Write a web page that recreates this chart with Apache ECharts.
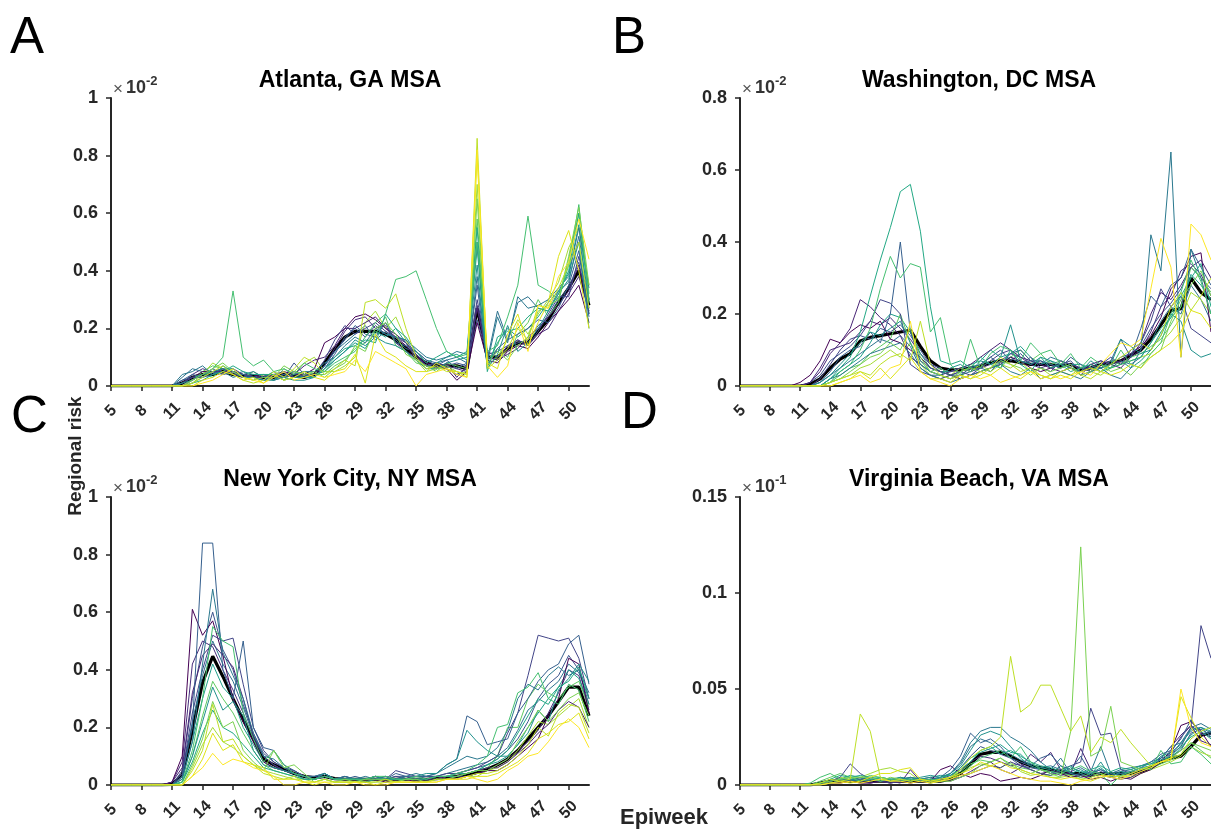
<!DOCTYPE html>
<html>
<head>
<meta charset="utf-8">
<title>Regional risk by epiweek</title>
<script src="https://cdn.jsdelivr.net/npm/echarts@6/dist/echarts.min.js"></script>
<style>
  html, body { margin: 0; padding: 0; background: #fff; }
  #main { width: 1211px; height: 829px; }
</style>
</head>
<body>
<div id="main"></div>
<script>
// epiweeks 5..52
const weeks = [5,6,7,8,9,10,11,12,13,14,15,16,17,18,19,20,21,22,23,24,25,26,27,28,
               29,30,31,32,33,34,35,36,37,38,39,40,41,42,43,44,45,46,47,48,49,50,51,52];

const panelTitles = ['Atlanta, GA MSA', 'Washington, DC MSA', 'New York City, NY MSA', 'Virginia Beach, VA MSA'];
const panelLetters = ['A', 'B', 'C', 'D'];
const yMaxes = [1, 0.8, 1, 0.15];
const yIntervals = [0.2, 0.2, 0.2, 0.05];
const yExponents = ['-2', '-2', '-2', '-1'];

// model runs (one line each), values in units of the axis multiplier
const atlantaRuns = [
  [0,0,0,0,0,0,0,0.01, 0.03,0.05,0.05,0.06,0.04,0.03,0.04,0.03, 0.03,0.05,0.04,0.04,0.06,0.15,0.17,0.2, 0.24,0.25,0.23,0.2,0.17,0.14,0.1,0.08, 0.07,0.06,0.02,0.05,0.22,0.09,0.08,0.12, 0.14,0.13,0.17,0.22,0.26,0.3,0.35,0.22],
  [0,0,0,0,0,0,0,0, 0.02,0.04,0.05,0.05,0.05,0.04,0.03,0.03, 0.04,0.03,0.04,0.07,0.09,0.1,0.14,0.2, 0.2,0.22,0.24,0.2,0.18,0.15,0.11,0.07, 0.06,0.08,0.03,0.07,0.27,0.1,0.09,0.11, 0.13,0.17,0.2,0.24,0.28,0.33,0.42,0.25],
  [0,0,0,0,0,0,0,0.01, 0.03,0.03,0.04,0.06,0.04,0.04,0.03,0.02, 0.04,0.05,0.03,0.03,0.04,0.09,0.16,0.21, 0.18,0.2,0.22,0.19,0.17,0.15,0.1,0.07, 0.08,0.06,0.04,0.06,0.3,0.12,0.1,0.13, 0.16,0.14,0.19,0.25,0.31,0.31,0.45,0.3],
  [0,0,0,0,0,0,0,0.02, 0.04,0.03,0.05,0.04,0.05,0.03,0.04,0.04, 0.02,0.04,0.05,0.03,0.03,0.07,0.12,0.16, 0.21,0.18,0.17,0.22,0.15,0.14,0.12,0.09, 0.07,0.09,0.06,0.08,0.35,0.07,0.13,0.16, 0.18,0.2,0.23,0.22,0.27,0.35,0.47,0.24],
  [0,0,0,0,0,0,0,0.04, 0.05,0.07,0.04,0.05,0.03,0.04,0.05,0.03, 0.02,0.03,0.04,0.05,0.05,0.08,0.1,0.14, 0.17,0.15,0.2,0.18,0.17,0.16,0.13,0.1, 0.09,0.1,0.12,0.11,0.5,0.08,0.24,0.15, 0.31,0.27,0.28,0.3,0.34,0.38,0.55,0.34],
  [0,0,0,0,0,0,0,0.01, 0.02,0.04,0.05,0.06,0.06,0.03,0.03,0.02, 0.02,0.03,0.02,0.02,0.03,0.06,0.09,0.12, 0.16,0.14,0.17,0.15,0.14,0.12,0.09,0.06, 0.06,0.08,0.09,0.1,0.42,0.06,0.11,0.21, 0.12,0.15,0.2,0.26,0.32,0.37,0.5,0.2],
  [0,0,0,0,0,0,0,0, 0.01,0.02,0.04,0.05,0.07,0.05,0.04,0.04, 0.04,0.02,0.03,0.03,0.03,0.06,0.1,0.13, 0.14,0.16,0.15,0.25,0.2,0.17,0.12,0.08, 0.1,0.12,0.1,0.12,0.55,0.05,0.17,0.19, 0.2,0.24,0.27,0.26,0.32,0.4,0.6,0.29],
  [0,0,0,0,0,0,0,0, 0.01,0.03,0.06,0.1,0.33,0.1,0.07,0.09, 0.05,0.06,0.04,0.08,0.06,0.05,0.08,0.1, 0.12,0.17,0.22,0.25,0.37,0.38,0.4,0.3, 0.2,0.12,0.1,0.11,0.5,0.12,0.14,0.24, 0.35,0.59,0.35,0.33,0.3,0.42,0.63,0.3],
  [0,0,0,0,0,0,0,0, 0.02,0.04,0.06,0.08,0.05,0.03,0.02,0.03, 0.03,0.07,0.05,0.04,0.05,0.03,0.06,0.08, 0.14,0.12,0.2,0.22,0.18,0.11,0.09,0.07, 0.06,0.07,0.05,0.04,0.65,0.08,0.12,0.09, 0.14,0.17,0.26,0.28,0.3,0.45,0.62,0.35],
  [0,0,0,0,0,0,0,0, 0.01,0.03,0.05,0.07,0.04,0.02,0.01,0.02, 0.05,0.03,0.06,0.1,0.08,0.04,0.06,0.09, 0.07,0.29,0.3,0.27,0.32,0.2,0.1,0.06, 0.07,0.05,0.05,0.03,0.86,0.06,0.09,0.13, 0.2,0.16,0.28,0.27,0.34,0.42,0.5,0.27],
  [0,0,0,0,0,0,0,0, 0,0.02,0.03,0.05,0.04,0.02,0.03,0.01, 0.04,0.02,0.03,0.05,0.03,0.02,0.05,0.06, 0.11,0.01,0.18,0.12,0.1,0.07,0.05,0.05, 0.08,0.06,0.05,0.04,0.8,0.08,0.06,0.18, 0.25,0.14,0.22,0.29,0.45,0.54,0.4,0.2],
  [0,0,0,0,0,0,0,0, 0,0.01,0.02,0.04,0.06,0.03,0.02,0.01, 0.03,0.05,0.02,0.03,0.04,0.03,0.04,0.05, 0.09,0.05,0.12,0.1,0.08,0.06,0,0.04, 0.05,0.06,0.04,0.03,0.82,0.07,0.03,0.07, 0.22,0.12,0.28,0.27,0.38,0.43,0.58,0.44]
];
const atlantaExtraRuns = [
  [0,0,0,0,0,0,0,0.01, 0.04,0.06,0.05,0.05,0.06,0.04,0.04,0.03, 0.03,0.04,0.03,0.04,0.04,0.07,0.13,0.19, 0.23,0.24,0.2,0.21,0.15,0.12,0.1,0.07, 0.08,0.07,0.06,0.05,0.28,0.1,0.09,0.14, 0.16,0.14,0.18,0.2,0.26,0.32,0.38,0.26],
  [0,0,0,0,0,0,0,0.02, 0.03,0.04,0.06,0.04,0.05,0.04,0.03,0.04, 0.03,0.03,0.08,0.04,0.03,0.06,0.11,0.17, 0.2,0.17,0.21,0.18,0.17,0.16,0.11,0.08, 0.06,0.07,0.08,0.07,0.23,0.11,0.12,0.14, 0.15,0.16,0.21,0.24,0.3,0.34,0.43,0.27],
  [0,0,0,0,0,0,0,0.03, 0.06,0.05,0.04,0.06,0.04,0.05,0.03,0.02, 0.03,0.04,0.05,0.04,0.03,0.07,0.12,0.15, 0.18,0.21,0.16,0.19,0.16,0.13,0.12,0.09, 0.08,0.09,0.1,0.08,0.38,0.09,0.26,0.16, 0.29,0.31,0.27,0.26,0.33,0.36,0.52,0.3],
  [0,0,0,0,0,0,0,0.01, 0.03,0.04,0.03,0.07,0.05,0.04,0.03,0.03, 0.05,0.03,0.04,0.03,0.04,0.05,0.09,0.12, 0.15,0.13,0.19,0.17,0.2,0.15,0.1,0.07, 0.08,0.1,0.11,0.09,0.48,0.07,0.15,0.2, 0.17,0.2,0.24,0.29,0.33,0.39,0.56,0.25],
  [0,0,0,0,0,0,0,0, 0.02,0.05,0.07,0.06,0.04,0.03,0.05,0.03, 0.02,0.06,0.04,0.05,0.04,0.04,0.07,0.09, 0.13,0.15,0.18,0.24,0.14,0.12,0.08,0.07, 0.05,0.08,0.07,0.06,0.58,0.09,0.13,0.1, 0.18,0.22,0.3,0.24,0.29,0.44,0.6,0.32],
  [0,0,0,0,0,0,0,0, 0.01,0.04,0.08,0.06,0.05,0.03,0.02,0.04, 0.04,0.02,0.05,0.08,0.1,0.05,0.05,0.07, 0.1,0.22,0.26,0.2,0.24,0.16,0.09,0.05, 0.06,0.06,0.04,0.05,0.7,0.07,0.1,0.16, 0.23,0.18,0.25,0.3,0.36,0.48,0.55,0.35]
];
const atlantaMean = [0,0,0,0,0,0,0,0.01, 0.03,0.04,0.04,0.05,0.04,0.035,0.035,0.03, 0.03,0.04,0.035,0.03,0.04,0.08,0.13,0.17, 0.19,0.19,0.19,0.18,0.16,0.13,0.1,0.08, 0.07,0.07,0.07,0.06,0.27,0.1,0.1,0.13, 0.15,0.15,0.19,0.23,0.29,0.34,0.4,0.28];

const washingtonRuns = [
  [0,0,0,0,0,0,0.01,0.03, 0.07,0.13,0.12,0.15,0.17,0.16,0.18,0.13, 0.12,0.1,0.08,0.05,0.04,0.03,0.02,0.03, 0.04,0.05,0.06,0.08,0.07,0.05,0.04,0.05, 0.06,0.05,0.04,0.06,0.05,0.06,0.07,0.09, 0.11,0.14,0.19,0.27,0.3,0.36,0.37,0.15],
  [0,0,0,0,0,0,0,0.01, 0.04,0.09,0.12,0.16,0.24,0.22,0.19,0.17, 0.14,0.08,0.06,0.04,0.03,0.04,0.05,0.06, 0.08,0.1,0.12,0.1,0.08,0.07,0.06,0.05, 0.04,0.05,0.03,0.06,0.07,0.06,0.05,0.08, 0.12,0.2,0.26,0.24,0.28,0.33,0.35,0.3],
  [0,0,0,0,0,0,0,0, 0.02,0.06,0.1,0.13,0.14,0.18,0.24,0.23, 0.2,0.06,0.04,0.03,0.02,0.03,0.04,0.03, 0.05,0.07,0.09,0.1,0.06,0.08,0.05,0.04, 0.07,0.06,0.05,0.04,0.06,0.08,0.06,0.1, 0.12,0.18,0.27,0.22,0.25,0.16,0.14,0.12],
  [0,0,0,0,0,0,0,0, 0.01,0.04,0.08,0.1,0.11,0.15,0.12,0.2, 0.4,0.15,0.07,0.05,0.04,0.03,0.03,0.05, 0.06,0.08,0.06,0.09,0.1,0.07,0.07,0.06, 0.05,0.08,0.06,0.04,0.05,0.07,0.13,0.08, 0.16,0.25,0.22,0.28,0.3,0.38,0.33,0.28],
  [0,0,0,0,0,0,0,0, 0,0.02,0.03,0.05,0.07,0.09,0.1,0.11, 0.12,0.09,0.05,0.03,0.02,0.01,0.02,0.03, 0.04,0.05,0.06,0.04,0.03,0.05,0.02,0.03, 0.04,0.03,0.02,0.04,0.05,0.03,0.02,0.05, 0.1,0.42,0.32,0.65,0.08,0.38,0.3,0.2],
  [0,0,0,0,0,0,0,0, 0.01,0.03,0.06,0.09,0.12,0.15,0.14,0.16, 0.18,0.12,0.06,0.04,0.03,0.05,0.06,0.04, 0.07,0.06,0.08,0.17,0.07,0.06,0.08,0.07, 0.06,0.05,0.04,0.07,0.05,0.06,0.13,0.11, 0.09,0.1,0.14,0.2,0.18,0.1,0.08,0.09],
  [0,0,0,0,0,0,0,0, 0,0.02,0.05,0.08,0.15,0.25,0.35,0.44, 0.54,0.56,0.43,0.22,0.07,0.06,0.07,0.05, 0.08,0.06,0.05,0.1,0.06,0.04,0.08,0.05, 0.06,0.04,0.05,0.06,0.04,0.05,0.06,0.07, 0.08,0.12,0.16,0.19,0.25,0.3,0.34,0.22],
  [0,0,0,0,0,0,0,0, 0,0.01,0.04,0.06,0.1,0.16,0.27,0.36, 0.3,0.34,0.33,0.15,0.19,0.06,0.03,0.13, 0.05,0.09,0.11,0.1,0.07,0.12,0.09,0.1, 0.06,0.09,0.05,0.08,0.06,0.05,0.1,0.06, 0.05,0.09,0.12,0.2,0.26,0.35,0.29,0.2],
  [0,0,0,0,0,0,0,0, 0,0.01,0.02,0.04,0.06,0.08,0.09,0.12, 0.1,0.16,0.08,0.04,0.03,0.02,0.04,0.05, 0.04,0.05,0.07,0.06,0.05,0.03,0.05,0.04, 0.05,0.06,0.03,0.04,0.06,0.04,0.05,0.03, 0.06,0.08,0.1,0.18,0.24,0.28,0.32,0.25],
  [0,0,0,0,0,0,0,0, 0,0.01,0.02,0.03,0.04,0.03,0.06,0.08, 0.09,0.07,0.18,0.06,0.03,0.02,0.03,0.02, 0.03,0.05,0.08,0.06,0.04,0.05,0.03,0.02, 0.04,0.05,0.03,0.02,0.04,0.06,0.08,0.1, 0.12,0.1,0.14,0.22,0.26,0.21,0.25,0.3],
  [0,0,0,0,0,0,0,0, 0,0,0.01,0.02,0.04,0.02,0.05,0.02, 0.05,0.08,0.04,0.02,0.02,0.01,0.03,0.02, 0.04,0.03,0.05,0.03,0.02,0.04,0.03,0.02, 0.03,0.02,0.04,0.05,0.04,0.03,0.04,0.06, 0.05,0.08,0.1,0.12,0.15,0.21,0.2,0.16],
  [0,0,0,0,0,0,0,0, 0,0,0.01,0.02,0.03,0.01,0.02,0.05, 0.06,0.18,0.04,0.02,0.01,0,0.02,0.03, 0.02,0.03,0.01,0.02,0.03,0.04,0.02,0.03, 0.02,0.03,0.04,0.03,0.06,0.09,0.12,0.11, 0.13,0.27,0.41,0.33,0.08,0.45,0.42,0.35]
];
const washingtonExtraRuns = [
  [0,0,0,0,0,0,0,0.01, 0.05,0.1,0.11,0.12,0.15,0.18,0.17,0.19, 0.16,0.13,0.09,0.06,0.04,0.04,0.05,0.04, 0.05,0.06,0.07,0.09,0.08,0.06,0.05,0.06, 0.05,0.06,0.05,0.05,0.06,0.07,0.06,0.08, 0.1,0.15,0.22,0.25,0.32,0.34,0.31,0.25],
  [0,0,0,0,0,0,0,0.01, 0.03,0.07,0.09,0.11,0.14,0.13,0.16,0.15, 0.17,0.14,0.1,0.06,0.05,0.03,0.04,0.05, 0.06,0.08,0.1,0.07,0.09,0.06,0.07,0.05, 0.06,0.07,0.04,0.05,0.07,0.06,0.08,0.09, 0.11,0.16,0.2,0.23,0.27,0.33,0.3,0.27],
  [0,0,0,0,0,0,0,0, 0.01,0.03,0.05,0.07,0.09,0.11,0.13,0.12, 0.14,0.11,0.05,0.03,0.03,0.02,0.03,0.04, 0.05,0.04,0.07,0.08,0.06,0.07,0.06,0.08, 0.07,0.06,0.03,0.04,0.06,0.05,0.07,0.06, 0.08,0.12,0.18,0.22,0.2,0.28,0.24,0.18],
  [0,0,0,0,0,0,0,0, 0,0.02,0.04,0.06,0.08,0.12,0.17,0.2, 0.19,0.15,0.09,0.05,0.04,0.04,0.05,0.06, 0.07,0.1,0.08,0.09,0.11,0.08,0.06,0.07, 0.05,0.06,0.06,0.05,0.04,0.06,0.07,0.05, 0.07,0.1,0.15,0.19,0.22,0.31,0.28,0.24],
  [0,0,0,0,0,0,0,0, 0,0.01,0.03,0.05,0.06,0.09,0.11,0.13, 0.2,0.12,0.07,0.04,0.05,0.03,0.02,0.06, 0.05,0.07,0.05,0.08,0.1,0.07,0.09,0.06, 0.07,0.05,0.04,0.06,0.05,0.07,0.06,0.08, 0.09,0.11,0.13,0.17,0.22,0.33,0.3,0.26],
  [0,0,0,0,0,0,0,0, 0,0.01,0.02,0.03,0.05,0.06,0.08,0.1, 0.08,0.12,0.06,0.03,0.02,0.03,0.05,0.04, 0.06,0.04,0.06,0.05,0.07,0.04,0.05,0.03, 0.04,0.03,0.05,0.04,0.03,0.05,0.06,0.07, 0.08,0.09,0.12,0.15,0.19,0.26,0.24,0.2]
];
const washingtonMean = [0,0,0,0,0,0,0,0.005, 0.02,0.05,0.075,0.09,0.125,0.135,0.14,0.145, 0.15,0.155,0.11,0.07,0.05,0.045,0.045,0.05, 0.055,0.065,0.07,0.07,0.065,0.06,0.06,0.06, 0.055,0.06,0.045,0.05,0.06,0.065,0.07,0.085, 0.1,0.13,0.17,0.21,0.215,0.3,0.26,0.24];

const newYorkRuns = [
  [0,0,0,0,0,0,0.01,0.1, 0.61,0.52,0.57,0.45,0.3,0.22,0.15,0.08, 0.06,0.05,0.04,0.03,0.02,0.03,0.02,0.02, 0.02,0.01,0.02,0.01,0.02,0.02,0.01,0.02, 0.02,0.03,0.02,0.03,0.04,0.05,0.05,0.07, 0.1,0.13,0.16,0.24,0.3,0.44,0.42,0.25],
  [0,0,0,0,0,0,0.01,0.06, 0.32,0.45,0.49,0.45,0.41,0.3,0.17,0.1, 0.07,0.05,0.04,0.03,0.03,0.03,0.02,0.02, 0.02,0.02,0.02,0.02,0.02,0.03,0.02,0.02, 0.03,0.02,0.03,0.04,0.05,0.06,0.06,0.08, 0.11,0.14,0.18,0.21,0.26,0.29,0.27,0.2],
  [0,0,0,0,0,0,0,0.04, 0.25,0.4,0.52,0.5,0.51,0.35,0.2,0.12, 0.08,0.06,0.05,0.03,0.02,0.04,0.02,0.03, 0.02,0.02,0.03,0.02,0.05,0.04,0.03,0.03, 0.03,0.04,0.04,0.05,0.06,0.08,0.1,0.18, 0.25,0.38,0.52,0.51,0.5,0.51,0.44,0.3],
  [0,0,0,0,0,0,0,0.03, 0.2,0.84,0.84,0.4,0.3,0.5,0.2,0.13, 0.12,0.07,0.05,0.03,0.02,0.04,0.02,0.02, 0.03,0.02,0.03,0.02,0.04,0.03,0.03,0.03, 0.04,0.07,0.09,0.24,0.22,0.14,0.15,0.16, 0.25,0.3,0.36,0.4,0.42,0.49,0.52,0.35],
  [0,0,0,0,0,0,0,0.02, 0.15,0.42,0.68,0.46,0.38,0.3,0.18,0.1, 0.09,0.06,0.04,0.03,0.03,0.04,0.02,0.03, 0.02,0.03,0.02,0.03,0.02,0.03,0.04,0.03, 0.04,0.06,0.08,0.1,0.09,0.1,0.13,0.19, 0.3,0.35,0.33,0.38,0.41,0.38,0.4,0.32],
  [0,0,0,0,0,0,0,0.01, 0.1,0.22,0.34,0.26,0.29,0.24,0.12,0.07, 0.06,0.05,0.04,0.02,0.02,0.04,0.02,0.02, 0.02,0.02,0.03,0.02,0.02,0.02,0.03,0.04, 0.04,0.07,0.09,0.19,0.15,0.12,0.1,0.1, 0.14,0.18,0.26,0.22,0.33,0.37,0.42,0.36],
  [0,0,0,0,0,0,0,0.01, 0.08,0.18,0.26,0.2,0.18,0.14,0.1,0.06, 0.05,0.04,0.03,0.02,0.02,0.03,0.02,0.02, 0.02,0.01,0.02,0.02,0.02,0.02,0.02,0.02, 0.03,0.03,0.03,0.04,0.05,0.07,0.09,0.12, 0.18,0.24,0.3,0.28,0.34,0.36,0.41,0.3],
  [0,0,0,0,0,0,0,0.01, 0.12,0.3,0.55,0.5,0.48,0.25,0.16,0.08, 0.12,0.07,0.04,0.03,0.02,0.03,0.02,0.02, 0.02,0.02,0.03,0.03,0.02,0.02,0.03,0.02, 0.03,0.03,0.04,0.05,0.07,0.1,0.2,0.21, 0.32,0.34,0.39,0.3,0.28,0.35,0.33,0.22],
  [0,0,0,0,0,0,0,0, 0.07,0.16,0.29,0.2,0.22,0.12,0.08,0.05, 0.12,0.06,0.07,0.04,0.01,0.02,0.01,0.02, 0.01,0.02,0.02,0.02,0.01,0.02,0.02,0.01, 0.02,0.02,0.03,0.04,0.05,0.05,0.07,0.09, 0.15,0.2,0.26,0.22,0.26,0.3,0.32,0.24],
  [0,0,0,0,0,0,0,0, 0.05,0.12,0.28,0.15,0.16,0.1,0.07,0.04, 0.03,0.02,0.03,0.01,0.01,0.02,0.01,0.01, 0.01,0.01,0.01,0.02,0.01,0.01,0.01,0.01, 0.02,0.02,0.02,0.03,0.04,0.04,0.05,0.07, 0.1,0.14,0.2,0.17,0.25,0.28,0.27,0.18],
  [0,0,0,0,0,0,0,0, 0.03,0.09,0.18,0.12,0.14,0.08,0.07,0.06, 0.02,0.02,0.02,0.01,0,0.01,0.01,0.01, 0.01,0.01,0,0.01,0.01,0.01,0.01,0.01, 0.01,0.02,0.02,0.02,0.03,0.03,0.04,0.06, 0.08,0.11,0.16,0.18,0.21,0.22,0.25,0.16],
  [0,0,0,0,0,0,0,0, 0.03,0.06,0.11,0.07,0.09,0.08,0.06,0.05, 0.03,0,0,0.01,0.01,0.01,0,0, 0.01,0,0,0,0.01,0.01,0.01,0.01, 0.01,0.02,0.02,0.03,0.02,0.01,0.02,0.05, 0.07,0.1,0.11,0.15,0.2,0.23,0.2,0.13]
];
const newYorkExtraRuns = [
  [0,0,0,0,0,0,0.01,0.08, 0.42,0.5,0.48,0.4,0.33,0.25,0.16,0.1, 0.07,0.05,0.04,0.03,0.02,0.03,0.02,0.02, 0.02,0.02,0.02,0.02,0.03,0.02,0.02,0.02, 0.02,0.03,0.03,0.03,0.04,0.05,0.07,0.09, 0.12,0.15,0.19,0.25,0.32,0.4,0.38,0.26],
  [0,0,0,0,0,0,0,0.05, 0.3,0.48,0.6,0.47,0.4,0.28,0.18,0.11, 0.08,0.06,0.05,0.03,0.03,0.04,0.02,0.03, 0.02,0.02,0.03,0.02,0.03,0.03,0.02,0.03, 0.03,0.03,0.04,0.05,0.06,0.07,0.09,0.12, 0.16,0.22,0.3,0.35,0.38,0.45,0.4,0.28],
  [0,0,0,0,0,0,0,0.03, 0.22,0.38,0.5,0.42,0.36,0.27,0.17,0.1, 0.07,0.05,0.04,0.03,0.02,0.03,0.02,0.02, 0.02,0.02,0.02,0.03,0.02,0.03,0.02,0.02, 0.03,0.04,0.05,0.06,0.07,0.08,0.1,0.13, 0.19,0.26,0.29,0.33,0.36,0.42,0.39,0.3],
  [0,0,0,0,0,0,0,0.02, 0.15,0.3,0.42,0.34,0.3,0.2,0.14,0.08, 0.06,0.05,0.04,0.03,0.02,0.03,0.02,0.02, 0.02,0.02,0.02,0.02,0.02,0.02,0.02,0.02, 0.02,0.03,0.04,0.04,0.05,0.07,0.08,0.1, 0.14,0.2,0.25,0.3,0.34,0.4,0.37,0.28],
  [0,0,0,0,0,0,0,0.01, 0.1,0.24,0.36,0.3,0.25,0.18,0.12,0.07, 0.05,0.04,0.03,0.02,0.02,0.03,0.02,0.02, 0.02,0.01,0.02,0.02,0.02,0.02,0.02,0.02, 0.02,0.03,0.03,0.04,0.05,0.06,0.1,0.2, 0.2,0.3,0.35,0.32,0.3,0.34,0.36,0.27],
  [0,0,0,0,0,0,0,0, 0.06,0.14,0.2,0.15,0.13,0.1,0.07,0.05, 0.04,0.03,0.02,0.02,0.01,0.02,0.01,0.01, 0.01,0.01,0.01,0.01,0.01,0.02,0.01,0.01, 0.02,0.02,0.02,0.03,0.03,0.05,0.06,0.08, 0.12,0.17,0.22,0.21,0.24,0.27,0.3,0.2]
];
const newYorkMean = [0,0,0,0,0,0,0.002,0.035, 0.19,0.355,0.447,0.377,0.3,0.226,0.16,0.09, 0.07,0.055,0.04,0.03,0.025,0.03,0.022,0.02, 0.02,0.02,0.02,0.02,0.02,0.02,0.02,0.02, 0.022,0.025,0.03,0.035,0.045,0.055,0.07,0.09, 0.12,0.16,0.2,0.24,0.29,0.34,0.34,0.24];

const virginiaRuns = [
  [0,0,0,0,0,0,0,0, 0,0.001,0.001,0.002,0.001,0.001,0.002,0.001, 0.002,0.001,0.002,0.002,0.008,0.01,0.006,0.004, 0.006,0.005,0.002,0.003,0.004,0.003,0.005,0.008, 0.006,0.004,0.005,0.003,0.004,0.002,0.004,0.003, 0.006,0.008,0.012,0.018,0.031,0.033,0.028,0.02],
  [0,0,0,0,0,0,0,0, 0,0.001,0.002,0.003,0.002,0.001,0.002,0.002, 0.001,0.008,0.002,0.001,0.003,0.002,0.004,0.007, 0.01,0.012,0.008,0.006,0.009,0.016,0.012,0.017, 0.008,0.006,0.019,0.008,0.005,0.004,0.003,0.004, 0.007,0.009,0.014,0.02,0.026,0.031,0.023,0.021],
  [0,0,0,0,0,0,0,0, 0.001,0.002,0.004,0.011,0.006,0.003,0.002,0.001, 0.002,0.002,0.003,0.002,0.002,0.003,0.004,0.006, 0.008,0.01,0.009,0.012,0.01,0.008,0.006,0.005, 0.008,0.01,0.012,0.04,0.026,0.027,0.008,0.006, 0.008,0.01,0.012,0.016,0.02,0.03,0.083,0.066],
  [0,0,0,0,0,0,0,0, 0,0.001,0.002,0.003,0.003,0.004,0.002,0.003, 0.002,0.003,0.002,0.003,0.004,0.008,0.015,0.027, 0.022,0.024,0.02,0.014,0.012,0.01,0.014,0.016, 0.01,0.008,0.015,0.006,0.008,0.005,0.006,0.007, 0.009,0.012,0.016,0.018,0.024,0.034,0.026,0.028],
  [0,0,0,0,0,0,0,0, 0.001,0.002,0.003,0.002,0.004,0.002,0.003,0.002, 0.003,0.004,0.003,0.002,0.003,0.006,0.012,0.022, 0.028,0.03,0.03,0.025,0.022,0.018,0.012,0.008, 0.014,0.006,0.005,0.007,0.02,0.006,0.008,0.009, 0.01,0.012,0.014,0.02,0.022,0.028,0.03,0.027],
  [0,0,0,0,0,0,0,0, 0,0.001,0.002,0.003,0.002,0.003,0.002,0.003, 0.004,0.003,0.004,0.005,0.004,0.006,0.01,0.018, 0.026,0.028,0.026,0.02,0.014,0.01,0.008,0.006, 0.01,0.006,0.008,0.005,0.012,0.004,0.007,0.006, 0.008,0.01,0.015,0.017,0.021,0.029,0.03,0.025],
  [0,0,0,0,0,0,0,0, 0.001,0.003,0.005,0.004,0.005,0.004,0.003,0.002, 0.003,0.002,0.003,0.002,0.004,0.005,0.008,0.012, 0.018,0.02,0.016,0.018,0.015,0.012,0.01,0.009, 0.007,0.01,0.006,0.008,0.01,0.007,0.009,0.008, 0.01,0.011,0.013,0.015,0.02,0.025,0.028,0.024],
  [0,0,0,0,0,0,0,0.001, 0.004,0.006,0.003,0.004,0.002,0.003,0.004,0.003, 0.002,0.003,0.002,0.003,0.002,0.004,0.006,0.01, 0.014,0.016,0.018,0.014,0.02,0.012,0.008,0.007, 0.006,0.008,0.01,0.007,0.006,0,0.005,0.007, 0.009,0.008,0.018,0.011,0.012,0.02,0.016,0.011],
  [0,0,0,0,0,0,0,0, 0.001,0.002,0.003,0.004,0.004,0.004,0.002,0.004, 0.003,0.002,0.003,0.001,0.002,0.002,0.004,0.006, 0.01,0.012,0.014,0.01,0.008,0.006,0.008,0.006, 0.004,0.028,0.124,0.015,0.018,0.041,0.012,0.01, 0.008,0.01,0.012,0.014,0.018,0.022,0.02,0.018],
  [0,0,0,0,0,0,0,0, 0.001,0.003,0.002,0.003,0.037,0.028,0.004,0.002, 0.003,0.002,0.003,0.002,0.002,0.004,0.008,0.014, 0.018,0.02,0.025,0.067,0.038,0.042,0.052,0.052, 0.04,0.028,0.036,0.017,0.025,0.022,0.029,0.022, 0.016,0.01,0.012,0.014,0.016,0.024,0.028,0.03],
  [0,0,0,0,0,0,0,0, 0,0.001,0.002,0.001,0.002,0.004,0.006,0.006, 0.008,0.009,0.003,0.002,0.003,0.004,0.006,0.008, 0.012,0.01,0.012,0.009,0.008,0.006,0.005,0.004, 0.003,0.004,0.003,0.002,0.004,0.005,0.004,0.006, 0.008,0.01,0.012,0.014,0.046,0.035,0.025,0.02],
  [0,0,0,0,0,0,0,0, 0,0.001,0.001,0.002,0.001,0.002,0.003,0.002, 0.002,0.001,0.002,0.001,0.002,0.003,0.005,0.006, 0.008,0.01,0.008,0.006,0.004,0.003,0.002,0.002, 0.001,0,0.002,0.003,0.005,0.004,0.003,0.005, 0.007,0.009,0.012,0.013,0.05,0.03,0.022,0.02]
];
const virginiaExtraRuns = [
  [0,0,0,0,0,0,0,0, 0,0.001,0.002,0.002,0.003,0.002,0.003,0.002, 0.003,0.002,0.003,0.004,0.003,0.005,0.008,0.012, 0.015,0.014,0.012,0.01,0.011,0.008,0.006,0.007, 0.005,0.006,0.004,0.005,0.006,0.004,0.005,0.006, 0.008,0.01,0.013,0.017,0.025,0.031,0.027,0.025],
  [0,0,0,0,0,0,0,0, 0.001,0.001,0.002,0.003,0.002,0.003,0.002,0.002, 0.002,0.003,0.002,0.003,0.003,0.004,0.009,0.015, 0.02,0.018,0.016,0.014,0.01,0.009,0.008,0.006, 0.007,0.005,0.006,0.004,0.007,0.005,0.006,0.005, 0.007,0.009,0.012,0.015,0.018,0.027,0.029,0.026],
  [0,0,0,0,0,0,0,0, 0,0.002,0.003,0.002,0.003,0.004,0.003,0.002, 0.004,0.003,0.002,0.003,0.004,0.006,0.011,0.02, 0.024,0.022,0.018,0.016,0.013,0.011,0.009,0.01, 0.008,0.007,0.009,0.006,0.008,0.006,0.007,0.008, 0.01,0.011,0.014,0.016,0.022,0.03,0.032,0.029],
  [0,0,0,0,0,0,0,0, 0.001,0.002,0.003,0.005,0.004,0.003,0.004,0.003, 0.003,0.004,0.003,0.004,0.005,0.005,0.009,0.014, 0.017,0.019,0.021,0.017,0.016,0.011,0.009,0.008, 0.006,0.009,0.007,0.006,0.009,0.005,0.006,0.007, 0.009,0.01,0.012,0.014,0.019,0.026,0.03,0.028],
  [0,0,0,0,0,0,0,0, 0.002,0.004,0.006,0.004,0.003,0.005,0.004,0.003, 0.002,0.004,0.003,0.002,0.003,0.004,0.007,0.011, 0.013,0.012,0.014,0.011,0.009,0.008,0.006,0.005, 0.006,0.005,0.004,0.006,0.005,0.007,0.004,0.006, 0.008,0.009,0.011,0.013,0.016,0.022,0.018,0.014],
  [0,0,0,0,0,0,0,0, 0,0.002,0.004,0.003,0.004,0.006,0.008,0.009, 0.007,0.006,0.002,0.003,0.002,0.003,0.006,0.009, 0.011,0.01,0.009,0.012,0.007,0.005,0.006,0.004, 0.004,0.005,0.003,0.004,0.006,0.004,0.005,0.004, 0.006,0.008,0.01,0.012,0.015,0.02,0.017,0.015]
];
const virginiaMean = [0,0,0,0,0,0,0,0, 0.001,0.002,0.002,0.002,0.002,0.002,0.002,0.002, 0.002,0.002,0.002,0.002,0.002,0.003,0.006,0.011, 0.016,0.017,0.017,0.015,0.012,0.01,0.009,0.008, 0.007,0.006,0.006,0.005,0.006,0.006,0.006,0.006, 0.007,0.009,0.012,0.014,0.015,0.02,0.026,0.027];

const allRuns = [atlantaRuns, washingtonRuns, newYorkRuns, virginiaRuns];
const allExtraRuns = [atlantaExtraRuns, washingtonExtraRuns, newYorkExtraRuns, virginiaExtraRuns];
const allMeans = [atlantaMean, washingtonMean, newYorkMean, virginiaMean];

// viridis colours for the runs
const viridis = ['#440154','#482475','#414487','#355f8d','#2a788e','#21918c',
                 '#22a884','#44bf70','#7ad151','#bddf26','#dde318','#fde725'];
const viridisExtra = ['#472d7b','#3b528b','#2c728e','#1f9e89','#5ec962','#a5db36'];

// layout
const FONT = '"Liberation Sans", Arial, Helvetica, sans-serif';
const TXT = '#262626';
const gridLefts = [111, 740, 111, 740];
const gridTops = [98, 98, 497, 497];
const gridW = 478, gridH = 288;
const letterPos = [[10, 39], [612, 39], [11, 418], [621, 414]];

var chart = echarts.init(document.getElementById('main'));
window.addEventListener('resize', function () { chart.resize(); });

var grids = [], xAxes = [], yAxes = [], series = [], titles = [], graphics = [];

function runSeries(i, data, color) {
    return {
        type: 'line', xAxisIndex: i, yAxisIndex: i, data: data,
        symbol: 'none', silent: true, animation: false,
        lineStyle: { width: 1, color: color }, itemStyle: { color: color }, z: 3
    };
}

for (let i = 0; i < 4; i++) {
    grids.push({ left: gridLefts[i], top: gridTops[i], width: gridW, height: gridH, containLabel: false });

    xAxes.push({
        gridIndex: i, type: 'category', data: weeks, boundaryGap: false,
        axisLine: { show: true, lineStyle: { color: TXT, width: 2 } },
        axisTick: { show: true, interval: 2, length: 5, lineStyle: { color: TXT, width: 1.5 } },
        axisLabel: {
            interval: 2, rotate: 45, align: 'center', verticalAlign: 'middle', margin: 25,
            fontFamily: FONT, fontSize: 16, fontWeight: 'bold', color: TXT
        },
        splitLine: { show: false }
    });

    yAxes.push({
        gridIndex: i, type: 'value', min: 0, max: yMaxes[i], interval: yIntervals[i],
        axisLine: { show: true, lineStyle: { color: TXT, width: 2 } },
        axisTick: { show: true, length: 5, lineStyle: { color: TXT, width: 1.5 } },
        axisLabel: { margin: 13, fontFamily: FONT, fontSize: 18, fontWeight: 'bold', color: TXT },
        splitLine: { show: false }
    });

    // mean first (underneath), then the runs
    series.push({
        type: 'line', xAxisIndex: i, yAxisIndex: i, data: allMeans[i],
        symbol: 'none', silent: true, animation: false,
        lineStyle: { width: 3.2, color: '#000' }, itemStyle: { color: '#000' }, z: 2
    });
    allExtraRuns[i].forEach(function (run, k) { series.push(runSeries(i, run, viridisExtra[k])); });
    allRuns[i].forEach(function (run, k) { series.push(runSeries(i, run, viridis[k])); });

    titles.push({
        text: panelTitles[i], left: gridLefts[i] + gridW / 2, top: gridTops[i] - 29,
        textAlign: 'center', padding: 0,
        textStyle: { fontFamily: FONT, fontSize: 23, fontWeight: 'bold', color: '#000' }
    });

    // axis multiplier  x10^n
    graphics.push(
        { type: 'text', x: gridLefts[i] + 2, y: gridTops[i] - 9,
          style: { text: '\u00d7', font: 'normal 17px ' + FONT, fill: '#555', align: 'left', verticalAlign: 'middle' } },
        { type: 'text', x: gridLefts[i] + 15, y: gridTops[i] - 10,
          style: { text: '10', font: 'bold 18px ' + FONT, fill: '#333', align: 'left', verticalAlign: 'middle' } },
        { type: 'text', x: gridLefts[i] + 35, y: gridTops[i] - 17,
          style: { text: yExponents[i], font: 'bold 13px ' + FONT, fill: '#333', align: 'left', verticalAlign: 'middle' } },
        { type: 'text', x: letterPos[i][0], y: letterPos[i][1],
          style: { text: panelLetters[i], font: 'normal 51px ' + FONT, fill: '#000', align: 'left', verticalAlign: 'middle' } }
    );
}

graphics.push(
    { type: 'text', x: 76, y: 456, rotation: Math.PI / 2,
      style: { text: 'Regional risk', font: 'bold 19px ' + FONT, fill: TXT, align: 'center', verticalAlign: 'middle' } },
    { type: 'text', x: 664, y: 818,
      style: { text: 'Epiweek', font: 'bold 22px ' + FONT, fill: TXT, align: 'center', verticalAlign: 'middle' } }
);

chart.setOption({
    backgroundColor: '#fff',
    animation: false,
    title: titles,
    grid: grids,
    xAxis: xAxes,
    yAxis: yAxes,
    series: series,
    graphic: graphics
});
</script>
</body>
</html>
